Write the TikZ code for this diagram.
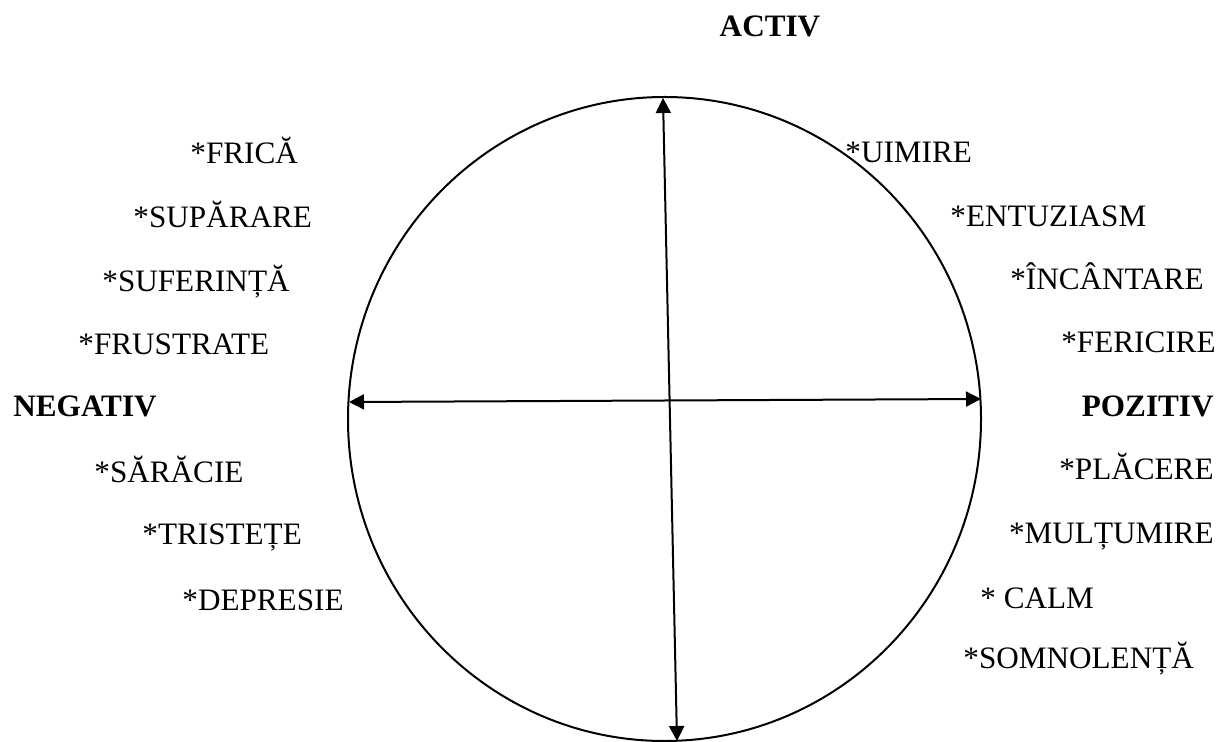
\documentclass[tikz,border=0pt]{standalone}
\usepackage{fontspec}
\setmainfont{Liberation Serif}
\usetikzlibrary{arrows.meta}
\begin{document}
\begin{tikzpicture}[x=0.5pt,y=-0.5pt,
  lbl/.style={inner sep=0pt,anchor=base west,font=\fontsize{15.6}{18}\selectfont},
  bl/.style={lbl,font=\fontsize{15.6}{18}\selectfont\bfseries},
  axis/.style={line width=1pt,{Triangle[length=7.5pt,width=7.5pt]}-{Triangle[length=7.5pt,width=7.5pt]}}]
\useasboundingbox (0,0) rectangle (1225,742);
\draw[line width=1pt] (664.5,419) ellipse [x radius=316.5, y radius=322];
\coordinate (top) at (663,98);
\coordinate (bot) at (677,741);
\coordinate (lft) at (349,402);
\coordinate (rgt) at (981,399);
\draw[axis] (top) -- (bot);
\draw[axis] (lft) -- (rgt);
\node[bl,anchor=base] (activ) at (770,37) {ACTIV};
\node[bl] (neg) at (13,417) {NEGATIV};
\node[bl,anchor=base east] (poz) at (1214,417) {POZITIV};
\node[lbl] (l1) at (190,164) {*FRICĂ};
\node[lbl] (l2) at (133,228) {*SUPĂRARE};
\node[lbl] (l3) at (102,292) {*SUFERINȚĂ};
\node[lbl] (l4) at (78,355) {*FRUSTRATE};
\node[lbl] (l5) at (94,482) {*SĂRĂCIE};
\node[lbl] (l6) at (142,545) {*TRISTEȚE};
\node[lbl] (l7) at (182,610) {*DEPRESIE};
\node[lbl] (r1) at (845,163) {*UIMIRE};
\node[lbl] (r2) at (950,227) {*ENTUZIASM};
\node[lbl,anchor=base east] (r3) at (1204,290) {*ÎNCÂNTARE};
\node[lbl,anchor=base east] (r4) at (1216,353) {*FERICIRE};
\node[lbl,anchor=base east] (r5) at (1214,480) {*PLĂCERE};
\node[lbl,anchor=base east] (r6) at (1214,543) {*MULȚUMIRE};
\node[lbl] (r7) at (980,608) {* CALM};
\node[lbl] (r8) at (963,668) {*SOMNOLENȚĂ};
\end{tikzpicture}
\end{document}
